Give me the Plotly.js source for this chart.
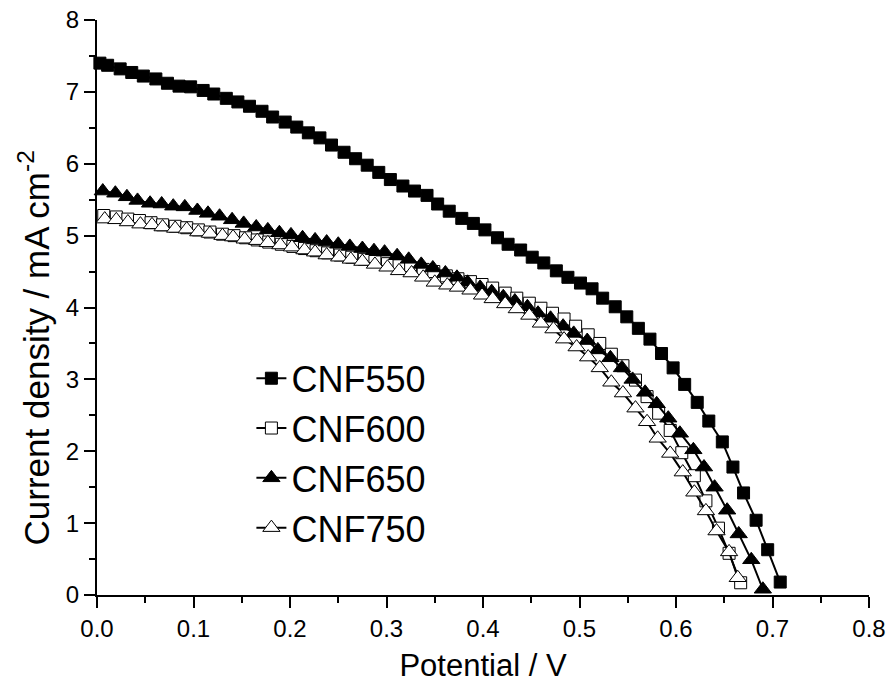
<!DOCTYPE html>
<html>
<head>
<meta charset="utf-8">
<script src="https://cdn.plot.ly/plotly-3.0.1.min.js"></script>
<style>html,body{margin:0;padding:0;background:#fff;}#chart{width:892px;height:694px;}</style>
</head>
<body>
<div id="chart"></div>
<script>
// Potential (V) and current density (mA cm^-2)
const seriesNames = ["CNF550", "CNF600", "CNF650", "CNF750"];

const cnf550V = [0.003,0.011,0.024,0.036,0.048,0.061,0.073,0.085,0.097,0.110,0.121,0.134,0.146,0.158,0.171,0.182,0.195,0.207,0.219,0.231,0.243,0.256,0.268,0.280,0.292,0.304,0.317,0.329,0.342,0.353,0.365,0.378,0.390,0.402,0.415,0.426,0.439,0.451,0.463,0.476,0.488,0.501,0.513,0.524,0.537,0.549,0.561,0.573,0.585,0.597,0.609,0.622,0.634,0.648,0.659,0.670,0.683,0.695,0.708];
const cnf550J = [7.40,7.37,7.32,7.27,7.22,7.18,7.12,7.08,7.07,7.02,6.97,6.91,6.86,6.80,6.73,6.65,6.58,6.51,6.43,6.36,6.26,6.16,6.07,5.98,5.88,5.78,5.69,5.62,5.56,5.44,5.34,5.24,5.17,5.08,4.97,4.88,4.80,4.70,4.62,4.51,4.42,4.34,4.26,4.13,4.01,3.87,3.71,3.56,3.36,3.16,2.93,2.68,2.42,2.13,1.78,1.42,1.04,0.63,0.18];

const cnf600V = [0.007,0.020,0.032,0.044,0.056,0.068,0.081,0.093,0.105,0.117,0.130,0.142,0.154,0.166,0.178,0.191,0.203,0.215,0.227,0.239,0.252,0.264,0.277,0.288,0.301,0.313,0.325,0.338,0.349,0.362,0.374,0.387,0.399,0.410,0.423,0.435,0.448,0.460,0.472,0.484,0.496,0.509,0.521,0.533,0.545,0.558,0.570,0.582,0.594,0.606,0.619,0.631,0.644,0.655,0.667];
const cnf600J = [5.28,5.26,5.23,5.21,5.18,5.15,5.13,5.11,5.08,5.05,5.02,5.00,4.97,4.94,4.91,4.88,4.85,4.82,4.79,4.76,4.73,4.70,4.67,4.64,4.61,4.58,4.55,4.53,4.50,4.44,4.40,4.36,4.32,4.27,4.20,4.13,4.06,3.99,3.92,3.84,3.74,3.62,3.50,3.35,3.19,2.99,2.76,2.53,2.29,1.98,1.66,1.31,0.93,0.58,0.17];

const cnf650V = [0.006,0.019,0.031,0.042,0.055,0.067,0.079,0.091,0.104,0.115,0.127,0.140,0.152,0.165,0.177,0.189,0.201,0.213,0.226,0.238,0.250,0.262,0.275,0.287,0.298,0.311,0.323,0.336,0.348,0.361,0.373,0.384,0.397,0.409,0.421,0.433,0.446,0.457,0.470,0.483,0.494,0.508,0.519,0.532,0.544,0.555,0.568,0.580,0.592,0.604,0.618,0.629,0.640,0.653,0.665,0.678,0.690];
const cnf650J = [5.62,5.59,5.54,5.49,5.45,5.44,5.41,5.40,5.35,5.31,5.27,5.22,5.17,5.12,5.08,5.04,5.01,4.97,4.94,4.91,4.88,4.85,4.82,4.79,4.77,4.72,4.67,4.60,4.55,4.48,4.42,4.35,4.28,4.22,4.15,4.09,4.01,3.92,3.85,3.74,3.64,3.54,3.41,3.30,3.16,3.00,2.82,2.66,2.46,2.25,2.02,1.78,1.50,1.18,0.85,0.49,0.08];

const cnf750V = [0.008,0.020,0.032,0.045,0.057,0.068,0.081,0.093,0.105,0.117,0.130,0.141,0.153,0.166,0.177,0.190,0.202,0.215,0.226,0.238,0.251,0.263,0.275,0.288,0.301,0.313,0.326,0.338,0.350,0.363,0.374,0.387,0.399,0.410,0.423,0.435,0.448,0.460,0.473,0.484,0.497,0.509,0.521,0.533,0.545,0.558,0.570,0.581,0.594,0.607,0.619,0.631,0.642,0.655,0.664];
const cnf750J = [5.23,5.22,5.19,5.16,5.15,5.12,5.10,5.09,5.05,5.03,5.00,4.98,4.95,4.93,4.90,4.87,4.84,4.80,4.77,4.73,4.70,4.67,4.64,4.60,4.56,4.51,4.48,4.42,4.35,4.31,4.28,4.24,4.17,4.12,4.05,3.98,3.89,3.78,3.70,3.56,3.45,3.31,3.16,2.96,2.81,2.60,2.41,2.18,1.97,1.71,1.43,1.17,0.89,0.60,0.24];

const xTickVals = [0, 0.1, 0.2, 0.3, 0.4, 0.5, 0.6, 0.7, 0.8];
const xTickText = ["0.0", "0.1", "0.2", "0.3", "0.4", "0.5", "0.6", "0.7", "0.8"];
const yTickVals = [0, 1, 2, 3, 4, 5, 6, 7, 8];
const xTitle = "Potential / V";
const yTitle = "Current density / mA cm<sup>-2</sup>";

const FONT = "Liberation Sans, Arial, sans-serif";

function mk(name, x, y, symbol, fill, size) {
  return {
    type: "scatter", mode: "lines+markers", name: name, x: x, y: y,
    line: {color: "#000", width: 2},
    marker: {symbol: symbol, size: size, color: fill, line: {color: "#000", width: 1}},
    cliponaxis: false
  };
}

const data = [
  mk(seriesNames[0], cnf550V, cnf550J, "square", "#000", 12),
  mk(seriesNames[1], cnf600V, cnf600J, "square", "#fff", 12),
  mk(seriesNames[2], cnf650V, cnf650J, "triangle-up", "#000", 15),
  mk(seriesNames[3], cnf750V, cnf750J, "triangle-up", "#fff", 15)
];

const layout = {
  width: 892, height: 694,
  margin: {l: 97, r: 23, t: 20, b: 99},
  paper_bgcolor: "#fff", plot_bgcolor: "#fff",
  font: {family: FONT, color: "#000"},
  showlegend: true,
  legend: {
    x: 0.2, y: 0.429, xanchor: "left", yanchor: "top",
    font: {family: FONT, size: 36, color: "#000"},
    bgcolor: "rgba(0,0,0,0)", borderwidth: 0, tracegroupgap: 0
  },
  xaxis: {
    range: [0, 0.8], tickvals: xTickVals, ticktext: xTickText,
    showgrid: false, zeroline: false, showline: true, linecolor: "#000", linewidth: 2,
    ticks: "outside", ticklen: 11, tickwidth: 2, tickcolor: "#000",
    minor: {ticks: "outside", ticklen: 6, tickwidth: 2, tickcolor: "#000", dtick: 0.05, showgrid: false},
    tickfont: {family: FONT, size: 24, color: "#000"},
    title: {text: xTitle, font: {family: FONT, size: 31, color: "#000"}, standoff: 14}
  },
  yaxis: {
    range: [0, 8], tickvals: yTickVals,
    showgrid: false, zeroline: false, showline: true, linecolor: "#000", linewidth: 2,
    ticks: "outside", ticklen: 11, tickwidth: 2, tickcolor: "#000",
    minor: {ticks: "outside", ticklen: 6, tickwidth: 2, tickcolor: "#000", dtick: 0.5, showgrid: false},
    tickfont: {family: FONT, size: 24, color: "#000"}
  },
  annotations: [{
    text: yTitle, textangle: -90, showarrow: false,
    xref: "paper", yref: "paper", x: -0.082, y: 0.43, xanchor: "center", yanchor: "middle",
    font: {family: FONT, size: 35, color: "#000"}
  }]
};

Plotly.newPlot("chart", data, layout, {displayModeBar: false, staticPlot: true});
</script>
</body>
</html>
